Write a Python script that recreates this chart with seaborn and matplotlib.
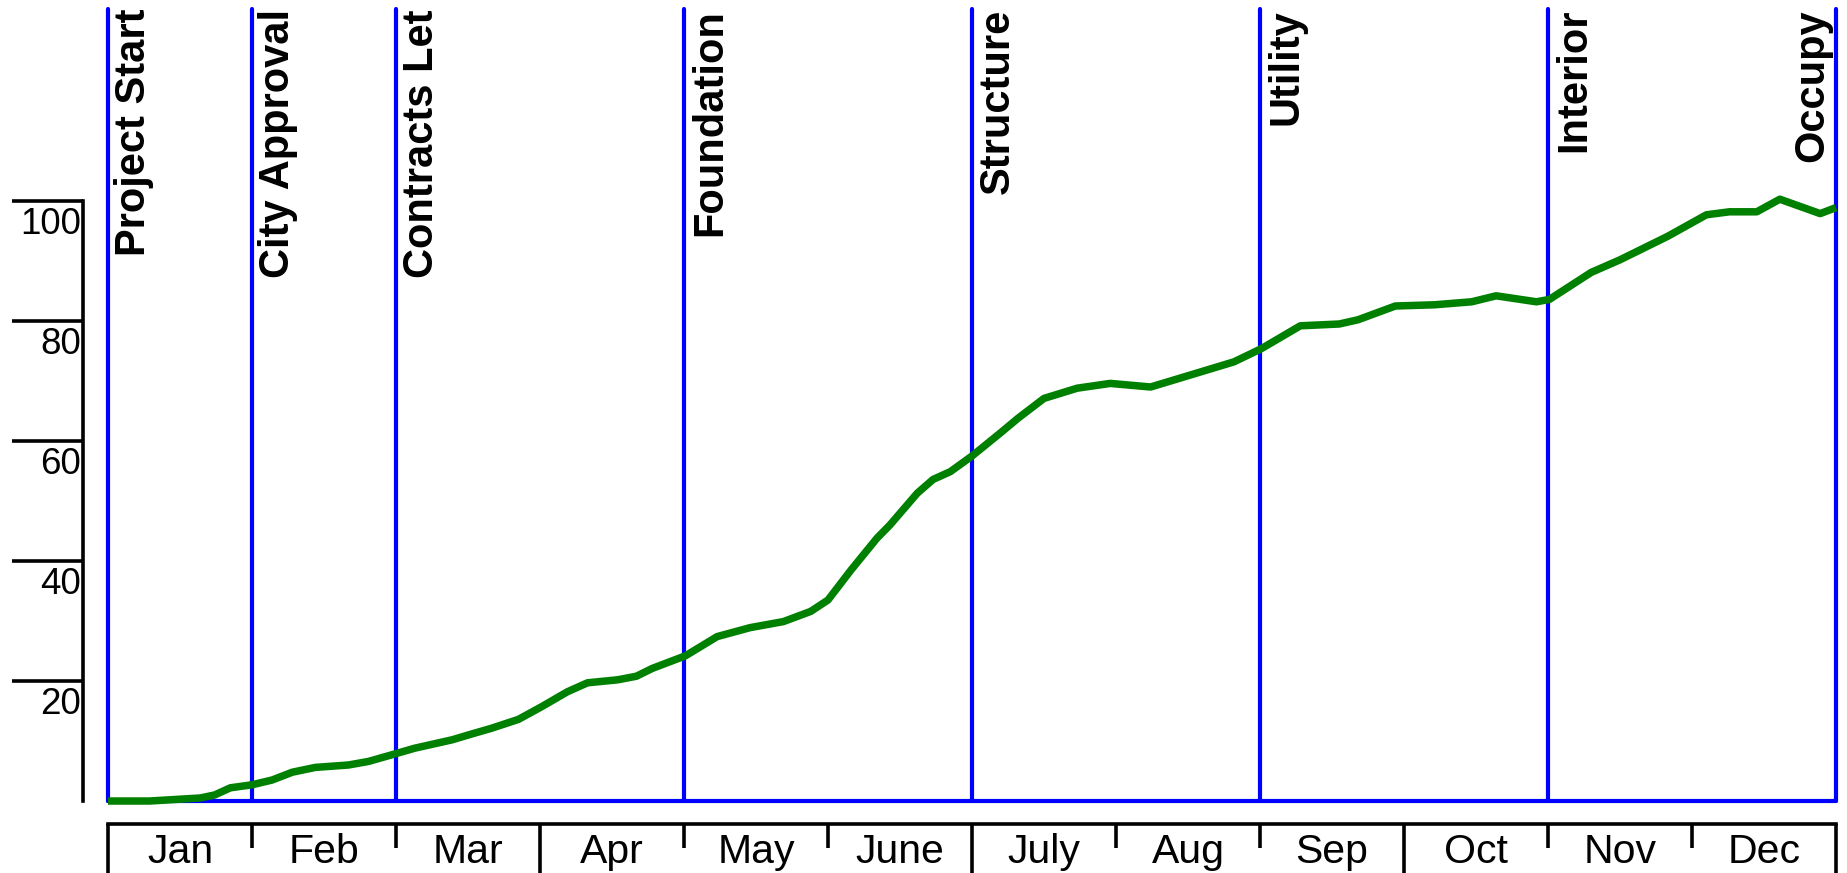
import numpy as np
import pandas as pd
import matplotlib.pyplot as plt
import matplotlib.transforms as mtransforms
import seaborn as sns

# ── Data ───────────────────────────────────────────────────────────
month_labels = ['Jan', 'Feb', 'Mar', 'Apr', 'May', 'June',
                'July', 'Aug', 'Sep', 'Oct', 'Nov', 'Dec']

milestone_names = ['Project Start', 'City Approval', 'Contracts Let', 'Foundation',
                   'Structure', 'Utility', 'Interior', 'Occupy']
milestone_month = [0, 1, 2, 4, 6, 8, 10, 12]

# progress curve: time in months since start, percent complete
progress_month = [0.00, 0.29, 0.64, 0.74, 0.85, 1.00, 1.14, 1.28, 1.44, 1.67,
                  1.81, 2.00, 2.13, 2.39, 2.53, 2.66, 2.85, 3.01, 3.19, 3.33,
                  3.54, 3.67, 3.78, 4.01, 4.23, 4.46, 4.69, 4.88, 5.00, 5.16,
                  5.34, 5.43, 5.62, 5.73, 5.85, 6.00, 6.20, 6.32, 6.50, 6.73,
                  6.96, 7.24, 7.42, 7.82, 8.01, 8.28, 8.55, 8.68, 8.94, 9.21,
                  9.47, 9.64, 9.92, 10.01, 10.30, 10.50, 10.83, 11.10, 11.26, 11.45,
                  11.61, 11.89, 12.00]
progress_pct = [0.0, 0.0, 0.5, 1.0, 2.2, 2.7, 3.5, 4.8, 5.6, 6.0,
                6.6, 7.9, 8.8, 10.2, 11.2, 12.1, 13.6, 15.7, 18.2, 19.7,
                20.2, 20.8, 22.1, 24.2, 27.4, 28.9, 29.9, 31.6, 33.5, 38.5,
                43.8, 46.0, 51.3, 53.6, 54.9, 57.5, 61.4, 63.8, 67.1, 68.8,
                69.6, 69.0, 70.3, 73.2, 75.4, 79.2, 79.5, 80.2, 82.5, 82.7,
                83.2, 84.2, 83.2, 83.6, 88.1, 90.2, 94.1, 97.7, 98.2, 98.2,
                100.3, 97.9, 98.9]

y_ticks = [20, 40, 60, 80, 100]

# ── Style ──────────────────────────────────────────────────────────
sns.set_theme(style='white')
plt.rcParams['font.family'] = ['Liberation Sans', 'DejaVu Sans']

BLUE = '#0000FF'
GREEN = '#008000'
W, H = 1847, 873
LW_BLUE = 3.0
LW_BLACK = 2.6

fig = plt.figure(figsize=(W / 100, H / 100), dpi=100)
fig.patch.set_facecolor('white')

# main plot area
ax = fig.add_axes([108 / W, 72 / H, 1728 / W, 792 / H])
ax.set_facecolor('white')
ax.set_xlim(0, 12)
ax.set_ylim(0, 132)

df = pd.DataFrame({'month': progress_month, 'pct': progress_pct})
sns.lineplot(data=df, x='month', y='pct', ax=ax, color=GREEN, linewidth=5.4,
             estimator=None, sort=False, zorder=5, clip_on=False,
             solid_joinstyle='round', solid_capstyle='butt')

for m in milestone_month:
    ax.axvline(m, color=BLUE, lw=LW_BLUE, zorder=3, clip_on=False)
ax.axhline(0, color=BLUE, lw=LW_BLUE, zorder=3, clip_on=False)

# milestone labels
for name, m in zip(milestone_names, milestone_month):
    if m == max(milestone_month):
        tr = mtransforms.offset_copy(ax.get_xaxis_transform(), fig=fig, x=-3, y=0, units='points')
        ha = 'right'
    else:
        tr = mtransforms.offset_copy(ax.get_xaxis_transform(), fig=fig, x=4.5, y=0, units='points')
        ha = 'left'
    ax.text(m, 1.0, name, transform=tr, rotation=90, ha=ha, va='top',
            fontsize=30, fontweight='bold', color='black')

# y axis
for s in ['top', 'right', 'bottom']:
    ax.spines[s].set_visible(False)
ax.spines['left'].set_position(('outward', 18))
ax.spines['left'].set_bounds(0, 100)
ax.spines['left'].set_color('black')
ax.spines['left'].set_linewidth(LW_BLACK)
ax.set_yticks(y_ticks)
ax.set_yticklabels([])
ax.tick_params(axis='y', direction='out', length=51, width=LW_BLACK, color='black', left=True)
ax.set_xticks([])
ax.set_xlabel('')
ax.set_ylabel('')

ytr = mtransforms.offset_copy(ax.get_yaxis_transform(), fig=fig, x=-19.5, y=-4, units='points')
for v in y_ticks:
    ax.text(0, v, str(v), transform=ytr, ha='right', va='top', fontsize=26.5, color='black')

# month bracket axis
axm = fig.add_axes([108 / W, 0, 1728 / W, 49 / H])
axm.set_xlim(0, 12)
axm.set_ylim(0, 1)
axm.set_facecolor('none')
for s in ['left', 'right', 'bottom']:
    axm.spines[s].set_visible(False)
axm.spines['top'].set_color('black')
axm.spines['top'].set_linewidth(LW_BLACK)
axm.set_xticks([])
axm.set_yticks([])

bounds = np.arange(len(month_labels) + 1)
for b in bounds:
    ymin = 0 if b % 3 == 0 else 0.51
    axm.vlines(b, ymin - (0.3 if ymin == 0 else 0), 1, color='black', lw=LW_BLACK, clip_on=False)
for i, lab in enumerate(month_labels):
    axm.text(i + 0.5, 0.2, lab, ha='center', va='baseline', fontsize=29.5, color='black')

plt.savefig('out.png', dpi=100, facecolor='white')
